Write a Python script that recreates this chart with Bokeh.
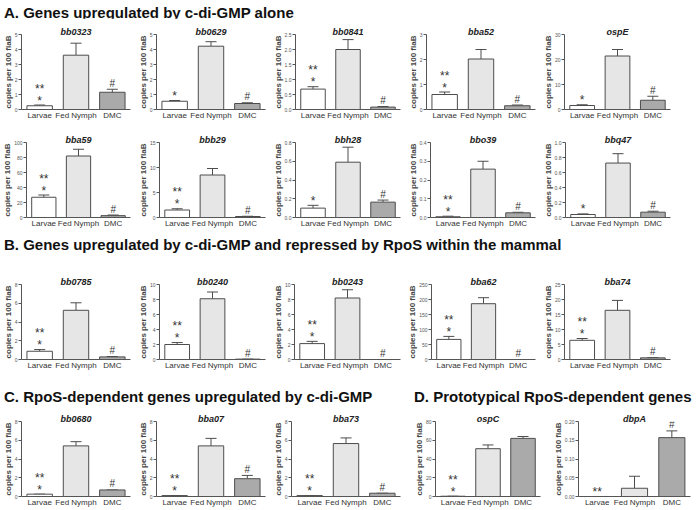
from bokeh.plotting import figure
from bokeh.layouts import column, row
from bokeh.models import Div, Range1d, FixedTicker, Whisker, TeeHead, ColumnDataSource, PrintfTickFormatter
from bokeh.core.properties import value
from bokeh.embed import file_html
from bokeh.resources import INLINE

FONT = "Liberation Sans"

categories = ["Larvae", "Fed Nymph", "DMC"]

genes = ["bb0323", "bb0629", "bb0841", "bba52", "ospE",
         "bba59", "bbb29", "bbh28", "bbo39", "bbq47",
         "bb0785", "bb0240", "bb0243", "bba62", "bba74",
         "bb0680", "bba07", "bba73",
         "ospC", "dbpA"]

larvae_mean = [0.25, 0.55, 0.68, 0.6, 1.6, 27, 1.5, 0.10, 0.004, 0.04,
               0.88, 2.0, 2.12, 67, 6.4, 0.25, 0.1, 0.1, 0.3, 0.0]
larvae_err = [0.05, 0.05, 0.08, 0.1, 0.3, 3, 0.25, 0.03, 0.003, 0.008,
              0.18, 0.26, 0.3, 10, 0.6, 0.0, 0.0, 0.0, 0.0, 0.0]
nymph_mean = [3.62, 4.22, 2.0, 2.02, 21.4, 82, 8.5, 0.59, 0.258, 0.726,
              5.25, 8.1, 8.2, 186, 16.4, 5.4, 5.4, 5.65, 51, 0.022]
nymph_err = [0.8, 0.3, 0.33, 0.38, 2.6, 9, 1.3, 0.16, 0.042, 0.125,
             0.8, 0.9, 1.1, 20, 3.3, 0.45, 0.8, 0.6, 4, 0.032]
dmc_mean = [1.15, 0.4, 0.08, 0.15, 3.7, 2.5, 0.2, 0.164, 0.025, 0.071,
            0.28, 0.05, 0.0, 0.0, 0.55, 0.7, 1.9, 0.35, 62, 0.157]
dmc_err = [0.2, 0.05, 0.02, 0.03, 1.6, 0.8, 0.05, 0.022, 0.003, 0.013,
           0.04, 0.0, 0.0, 0.0, 0.11, 0.0, 0.35, 0.0, 2, 0.018]

y_max = [5, 5, 2.5, 3, 30, 100, 15, 0.8, 0.4, 1.0,
         8, 10, 10, 250, 25, 8, 8, 8, 80, 0.20]
y_step = [1, 1, 0.5, 1, 10, 20, 5, 0.2, 0.1, 0.2,
          2, 2, 2, 50, 5, 2, 2, 2, 20, 0.05]
y_format = ["%d", "%d", "%.1f", "%d", "%d", "%d", "%d", "%.1f", "%.1f", "%.1f",
            "%d", "%d", "%d", "%d", "%d", "%d", "%d", "%d", "%d", "%.2f"]

larvae_low_mark = ["*"] * 19 + ["**"]
larvae_up_mark = ["**", "", "**", "**", "", "**", "**", "", "**", "",
                  "**", "**", "**", "**", "**", "**", "**", "**", "**", ""]
dmc_mark = ["#"] * 18 + ["", "#"]

y_label = "copies per 100 flaB"

bar_colors = ["#ffffff", "#e6e6e6", "#aaaaaa"]
EDGE = "#4d4d4d"


def panel(i, width, height, left=21, bottom=17):
    p = figure(x_range=categories, y_range=Range1d(0, y_max[i]),
               width=width, height=height, output_backend="svg", toolbar_location=None,
               min_border_left=left, min_border_right=5, min_border_top=16, min_border_bottom=bottom,
               title=genes[i])
    p.outline_line_color = None
    p.grid.visible = False
    p.title.text_font = FONT
    p.title.text_font_size = "9px"
    p.title.text_font_style = "bold italic"
    p.title.text_color = "#222222"
    p.title.align = "center"
    p.title.standoff = -5

    means = [larvae_mean[i], nymph_mean[i], dmc_mean[i]]
    errs = [larvae_err[i], nymph_err[i], dmc_err[i]]
    uppers = [m + e for m, e in zip(means, errs)]
    src = ColumnDataSource(dict(x=categories, top=means, upper=uppers, fill=bar_colors))
    p.vbar(x="x", top="top", width=0.7, fill_color="fill", line_color=EDGE, line_width=1, source=src)
    w = Whisker(source=src, base="x", upper="upper", lower="top", dimension="height",
                line_color=EDGE, line_width=1,
                upper_head=TeeHead(size=11, line_color=EDGE, line_width=1), lower_head=None)
    p.add_layout(w)

    if larvae_low_mark[i]:
        p.text(x=[categories[0]], y=[uppers[0]], text=[larvae_low_mark[i]], text_align="center",
               text_baseline="alphabetic", y_offset=-4.5, text_font=value(FONT), text_font_size="12px",
               text_color="#333333")
    if larvae_up_mark[i]:
        p.text(x=[categories[0]], y=[uppers[0]], text=[larvae_up_mark[i]], text_align="center",
               text_baseline="alphabetic", y_offset=-16.5, text_font=value(FONT), text_font_size="12px",
               text_color="#333333")
    if dmc_mark[i]:
        p.text(x=[categories[2]], y=[uppers[2]], text=[dmc_mark[i]], text_align="center",
               text_baseline="alphabetic", y_offset=-6, text_font=value(FONT), text_font_size="10px",
               text_color="#333333")

    n = int(round(y_max[i] / y_step[i]))
    p.yaxis.ticker = FixedTicker(ticks=[k * y_step[i] for k in range(n + 1)])
    p.yaxis.formatter = PrintfTickFormatter(format=y_format[i])
    p.yaxis.axis_label = y_label
    p.yaxis.axis_label_text_font = FONT
    p.yaxis.axis_label_text_font_size = "8px"
    p.yaxis.axis_label_text_font_style = "bold"
    p.yaxis.axis_label_text_color = "#444444"
    p.yaxis.axis_label_standoff = -1
    p.yaxis.major_label_text_font = FONT
    p.yaxis.major_label_text_font_size = "5px"
    p.yaxis.major_label_text_color = "#555555"
    p.yaxis.major_label_standoff = 1
    p.yaxis.major_tick_out = 3
    p.yaxis.major_tick_in = 0
    p.yaxis.minor_tick_line_color = None
    p.yaxis.axis_line_color = "#555555"
    p.yaxis.major_tick_line_color = "#555555"

    p.xaxis.major_label_text_font = FONT
    p.xaxis.major_label_text_font_size = "8px"
    p.xaxis.major_label_text_color = "#333333"
    p.xaxis.major_label_standoff = 1
    p.xaxis.major_tick_out = 0
    p.xaxis.major_tick_in = 0
    p.xaxis.major_tick_line_color = None
    p.xaxis.axis_line_color = "#555555"
    return p


def heading(text, width, height, top, left=0, lh=16):
    return Div(text=f'<div style="margin-top:{top}px;margin-left:{left}px;white-space:nowrap;line-height:{lh}px">{text}</div>',
               width=width, height=height, margin=0,
               styles={"font-family": FONT, "font-size": "15px", "font-weight": "bold",
                       "color": "#111111"})


rowA1 = [panel(i, 135, 108) for i in range(0, 5)]
rowA2 = [panel(i, 135, 108) for i in range(5, 10)]
rowB = [panel(i, 135, 108) for i in range(10, 15)]
rowC = [panel(i, 135, 105, bottom=14) for i in range(15, 18)]
rowC.append(panel(18, 140, 105, left=30, bottom=14))
rowC.append(panel(19, 150, 105, left=33, bottom=14))

layout = column(
    heading("A. Genes upregulated by c-di-GMP alone", 695, 18, 5, 4),
    row(*rowA1),
    row(*rowA2),
    heading("B. Genes upregulated by c-di-GMP and repressed by RpoS within the mammal", 695, 34, -3, 4, 12),
    row(*rowB),
    row(heading("C. RpoS-dependent genes upregulated by c-di-GMP", 405, 29, 13, 4),
        heading("D. Prototypical RpoS-dependent genes", 290, 29, 13, 9)),
    row(*rowC),
    spacing=0,
)

open("out.html", "w").write(file_html(layout, INLINE))
